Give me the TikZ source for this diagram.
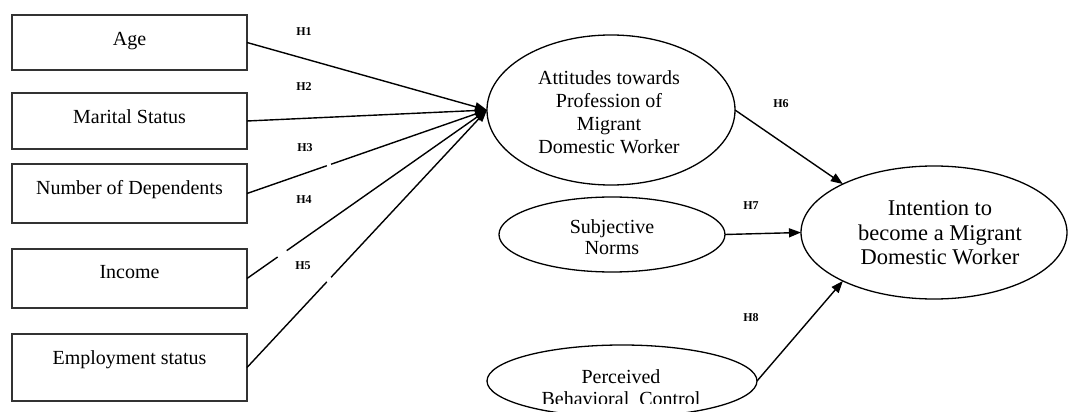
\documentclass[tikz,border=0pt]{standalone}
\usepackage{fontspec}
\setmainfont{Liberation Serif}
\usetikzlibrary{shapes.geometric,arrows.meta,calc}
\begin{document}
\begin{tikzpicture}[x=1pt,y=-1pt,
  box/.style={draw=black!80, line width=1.6pt, minimum width=235pt, inner sep=0pt, outer sep=0pt},
  boxtxt/.style={anchor=base, inner sep=0pt, font=\fontsize{20}{23}\selectfont},
  oval/.style={draw=black, line width=1.3pt, ellipse, inner sep=0pt, outer sep=0pt},
  ovaltxt/.style={align=center, inner sep=0pt},
  arr/.style={line width=1.4pt, black, -{Triangle[length=12pt,width=9pt]}},
  gap/.style={white, line width=4pt},
  lbl/.style={inner sep=0pt, font=\bfseries\fontsize{12}{12}\selectfont}]
\clip (0,0) rectangle (1069,412);
\useasboundingbox (0,0) rectangle (1069,412);
\fill[white] (0,0) rectangle (1069,412);
% boxes
\node[box, minimum height=55pt] (age) at (129.5,42.5) {};
\node[box, minimum height=56pt] (mar) at (129.5,121) {};
\node[box, minimum height=59pt] (num) at (129.5,193.5) {};
\node[box, minimum height=59pt] (inc) at (129.5,278.5) {};
\node[box, minimum height=67pt] (emp) at (129.5,367.5) {};
\node[boxtxt] (agetxt) at ($(age.north)+(0,31)$) {Age};
\node[boxtxt] (martxt) at ($(mar.north)+(0,30.5)$) {Marital Status};
\node[boxtxt] (numtxt) at ($(num.north)+(0,30.5)$) {Number of Dependents};
\node[boxtxt] (inctxt) at ($(inc.north)+(0,29.5)$) {Income};
\node[boxtxt] (emptxt) at ($(emp.north)+(0,30)$) {Employment status};
% ellipses
\node[oval, minimum width=248pt, minimum height=150pt] (att) at (611,110) {};
\node[ovaltxt, font=\fontsize{20}{23}\selectfont] (atttxt) at (609,112) {Attitudes towards\\Profession of\\Migrant\\Domestic Worker};
\node[oval, minimum width=226pt, minimum height=75pt] (sn) at (612,234.5) {};
\node[ovaltxt, font=\fontsize{20}{21.6}\selectfont] (sntxt) at (612,237) {Subjective\\Norms};
\node[oval, minimum width=270pt, minimum height=72pt] (pbc) at (622,381) {};
\begin{scope}
\clip (480,340) rectangle (770,403);
\node[ovaltxt, font=\fontsize{20}{22}\selectfont] (pbctxt) at (621,388) {Perceived\\Behavioral\ \ Control};
\end{scope}
\node[oval, minimum width=266pt, minimum height=133pt] (int) at (934,232.5) {};
\node[ovaltxt, font=\fontsize{22.5}{24.5}\selectfont] (inttxt) at (940,233) {Intention to\\become a Migrant\\Domestic Worker};
% connectors
\draw[arr] (age.east) -- (att.west);
\draw[arr] (mar.east) -- (att.west);
\draw[arr] (num.east) -- (att.west);
\draw[arr] (inc.east) -- (att.west);
\draw[arr] (emp.east) -- (att.west);
\draw[gap] ($(num.east)!0.333!(att.west)$) -- ($(num.east)!0.35!(att.west)$);
\draw[gap] ($(inc.east)!0.128!(att.west)$) -- ($(inc.east)!0.165!(att.west)$);
\draw[gap] ($(emp.east)!0.333!(att.west)$) -- ($(emp.east)!0.35!(att.west)$);
\draw[arr] (att.east) -- (int.152);
\draw[arr] (sn.east) -- (int.west);
\draw[arr] (pbc.east) -- (int.208);
% labels
\node[lbl] (h1) at (304,32) {H1};
\node[lbl] (h2) at (304,87) {H2};
\node[lbl] (h3) at (305,148) {H3};
\node[lbl] (h4) at (304,200) {H4};
\node[lbl] (h5) at (303,266) {H5};
\node[lbl] (h6) at (781,104) {H6};
\node[lbl] (h7) at (751,206) {H7};
\node[lbl] (h8) at (751,318) {H8};
\end{tikzpicture}
\end{document}
